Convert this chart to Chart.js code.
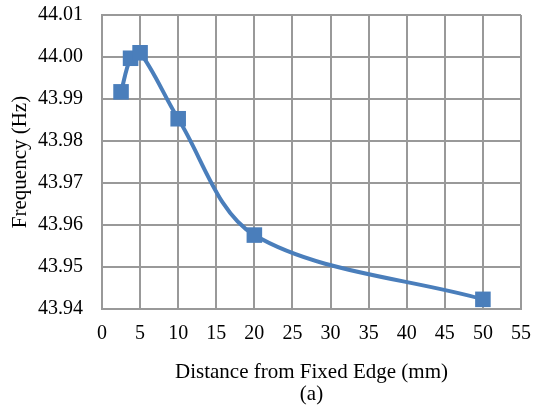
<!DOCTYPE html>
<html>
<head>
<meta charset="utf-8">
<script src="https://cdn.jsdelivr.net/npm/chart.js@4"></script>
<style>
    html, body { margin: 0; padding: 0; background: #fff; }
    #wrap { width: 537px; height: 410px; }
</style>
</head>
<body>
<div id="wrap"><canvas id="Chart" width="537" height="410"></canvas></div>
<script>
// distance from the fixed edge (mm) and measured frequency (Hz)
const distances = [2.5, 3.75, 5, 10, 20, 50];
const frequencies = [43.9917, 43.9997, 44.0010, 43.9853, 43.9576, 43.9423];

const blue = '#4a7ebb';
const gridGrey = '#999999';
const serif = "'Liberation Serif', 'Times New Roman', serif";

const points = distances.map((d, i) => ({ x: d, y: frequencies[i] }));

const dataFreq = {
    datasets: [{
        data: points,
        borderColor: blue,
        backgroundColor: blue,
        borderWidth: 4,
        tension: 0.33,
        pointStyle: 'rect',
        pointRadius: 11,
        pointHoverRadius: 11,
        pointBorderWidth: 0
    }]
};

// label gap comes from invisible tick marks, so it doesn't inflate the plot padding
const gridOpts = (gap) => ({
    color: gridGrey,
    lineWidth: 2,
    drawTicks: true,
    tickLength: gap,
    tickColor: 'rgba(0,0,0,0)'
});

//options
const optionsFreq = {
    responsive: false,
    animation: false,
    layout: { autoPadding: false, padding: { left: 8, right: 16, top: 15, bottom: 4 } },
    plugins: {
        legend: { display: false },
        tooltip: { enabled: false }
    },
    scales: {
        x: {
            type: 'linear',
            min: 0,
            max: 55,
            ticks: {
                stepSize: 5,
                padding: 0,
                color: '#000',
                font: { family: serif, size: 20 }
            },
            grid: gridOpts(13),
            border: { color: gridGrey, width: 2 },
            title: {
                display: true,
                text: ['Distance from Fixed Edge (mm)', '(a)'],
                color: '#000',
                font: { family: serif, size: 21, lineHeight: 1.05 },
                padding: { top: 12, bottom: 0 }
            },
            afterFit: (scale) => { scale.height = 410 - 309 - 4; }
        },
        y: {
            min: 43.94,
            max: 44.01,
            ticks: {
                stepSize: 0.01,
                padding: 0,
                color: '#000',
                font: { family: serif, size: 20 },
                callback: (v) => v.toFixed(2)
            },
            grid: gridOpts(19),
            border: { color: gridGrey, width: 2 },
            title: {
                display: true,
                text: 'Frequency (Hz)',
                color: '#000',
                font: { family: serif, size: 21 },
                padding: { top: 0, bottom: 4 }
            },
            afterFit: (scale) => { scale.width = 102 - 8; }
        }
    }
};

let lineChartElement = document.getElementById('Chart').getContext('2d');
let lineChart = new Chart(lineChartElement, {
    type: 'line',
    data: dataFreq,
    options: optionsFreq
});
</script>
</body>
</html>
